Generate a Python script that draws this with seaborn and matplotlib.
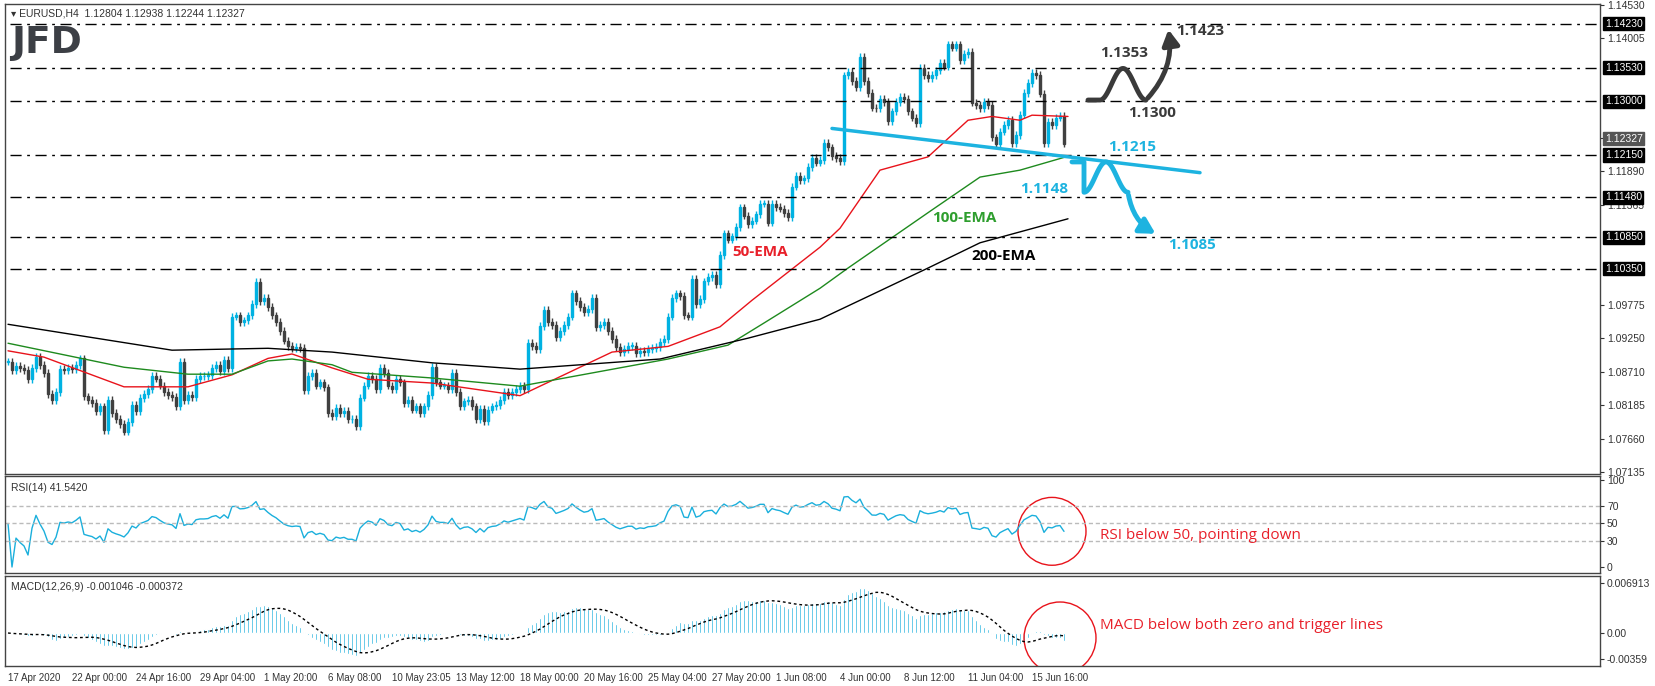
import numpy as np
import pandas as pd
import matplotlib
matplotlib.use("Agg")
import matplotlib.pyplot as plt
import seaborn as sns
from matplotlib.patches import Ellipse
from matplotlib.transforms import blended_transform_factory

# H4 closes, EURUSD 17 Apr - 16 Jun 2020
closes = [
    1.0888, 1.0875, 1.0881, 1.0878, 1.0875, 1.0860, 1.0878, 1.0895, 1.0883, 1.0870,
    1.0837, 1.0827, 1.0840, 1.0877, 1.0875, 1.0878, 1.0876, 1.0883, 1.0893,
    1.0833, 1.0827, 1.0822, 1.0809, 1.0817, 1.0780, 1.0827, 1.0807, 1.0797, 1.0789,
    1.0777, 1.0792, 1.0820, 1.0810, 1.0830, 1.0837, 1.0845, 1.0865, 1.0861, 1.0850,
    1.0840, 1.0835, 1.0832, 1.0817, 1.0888, 1.0827, 1.0835, 1.0832, 1.0860, 1.0865,
    1.0865, 1.0867, 1.0878, 1.0883, 1.0873, 1.0891, 1.0878, 1.0959, 1.0961, 1.0951,
    1.0953, 1.0961, 1.0979, 1.1014, 1.0984, 1.0989, 1.0974, 1.0961, 1.0951, 1.0936,
    1.0921, 1.0913, 1.0909, 1.0911, 1.0909, 1.0843, 1.0865, 1.0870, 1.0850, 1.0855,
    1.0847, 1.0807, 1.0802, 1.0815, 1.0807, 1.0810, 1.0797, 1.0797, 1.0786, 1.0831,
    1.0850, 1.0865, 1.0860, 1.0845, 1.0878, 1.0870, 1.0850, 1.0845, 1.0860, 1.0855,
    1.0822, 1.0827, 1.0812, 1.0817, 1.0807, 1.0817, 1.0835, 1.0879, 1.0855, 1.0850,
    1.0850, 1.0845, 1.0870, 1.0840, 1.0817, 1.0825, 1.0827, 1.0817, 1.0797, 1.0813,
    1.0794, 1.0812, 1.0817, 1.0819, 1.0827, 1.0840, 1.0835, 1.0840, 1.0845, 1.0850,
    1.0845,
    1.0917, 1.0913, 1.0908, 1.0944, 1.0970, 1.0951, 1.0946, 1.0927, 1.0936, 1.0946,
    1.0959, 1.0996, 1.0984, 1.0974, 1.0966, 1.0971, 1.0989, 1.0942, 1.0946, 1.0951,
    1.0936, 1.0924, 1.0911, 1.0903, 1.0908, 1.0913, 1.0913, 1.0901, 1.0905, 1.0903,
    1.0908, 1.0909, 1.0911, 1.0919, 1.0924, 1.0959, 1.0989, 1.0996, 1.0992, 1.0961,
    1.0959, 1.1019, 1.0979, 1.0987, 1.1015, 1.1022, 1.1025, 1.1011, 1.1057, 1.1091,
    1.1081, 1.1086, 1.1101, 1.1132, 1.1119, 1.1106, 1.1111, 1.1121, 1.1138, 1.1138,
    1.1108, 1.1138, 1.1133, 1.1130, 1.1123, 1.1117, 1.1165, 1.1182, 1.1175, 1.1178,
    1.1196, 1.1211, 1.1203,
    1.1207, 1.1234, 1.1227, 1.1213, 1.1210, 1.1205, 1.1341, 1.1347, 1.1332, 1.1322,
    1.1370, 1.1332, 1.1313, 1.1290, 1.1289, 1.1304, 1.1299, 1.1268, 1.1284, 1.1299,
    1.1307, 1.1304, 1.1284, 1.1274, 1.1265, 1.1353, 1.1342, 1.1337, 1.1342, 1.1349,
    1.1361, 1.1355, 1.1390, 1.1385, 1.1390, 1.1365, 1.1375, 1.1378, 1.1298, 1.1294,
    1.1289, 1.1299, 1.1294, 1.1243, 1.1232, 1.1252, 1.1262, 1.1271, 1.1234, 1.1247,
    1.1279, 1.1313, 1.1329, 1.1345, 1.1342, 1.1312, 1.1234, 1.1267, 1.1262, 1.1274,
    1.1277, 1.1233,
]

# moving averages: (bar index, value)
ema50_bars = [0, 9, 29, 45, 56, 65, 71, 81, 90, 106, 128, 151, 165, 178, 186, 203, 208, 218, 230, 240, 246, 253, 256, 265]
ema50_vals = [1.0905, 1.0895, 1.0848, 1.0848, 1.0867, 1.0893, 1.0900, 1.0878, 1.0860, 1.0854, 1.0834, 1.0903,
              1.0912, 1.0943, 1.0985, 1.1069, 1.1099, 1.1191, 1.1212, 1.1270, 1.1276, 1.1270, 1.1278, 1.1276]
ema100_bars = [0, 29, 45, 56, 65, 71, 81, 86, 106, 128, 165, 180, 189, 203, 210, 231, 243, 253, 265]
ema100_vals = [1.0917, 1.0879, 1.0868, 1.0868, 1.0889, 1.0892, 1.0883, 1.0871, 1.0862, 1.0849, 1.0892,
               1.0914, 1.0949, 1.1004, 1.1036, 1.1128, 1.1180, 1.1191, 1.1213]
ema200_bars = [0, 41, 65, 81, 106, 128, 163, 185, 203, 230, 243, 265]
ema200_vals = [1.0947, 1.0906, 1.0909, 1.0903, 1.0886, 1.0876, 1.0892, 1.0925, 1.0955, 1.1036, 1.1076, 1.1114]

levels = [1.1423, 1.1353, 1.1300, 1.1215, 1.1148, 1.1085, 1.1035]
price_ticks = [1.14530, 1.14005, 1.12415, 1.11890, 1.11365, 1.09775, 1.09250, 1.08710, 1.08185, 1.07660, 1.07135]
date_labels = ["17 Apr 2020", "22 Apr 00:00", "24 Apr 16:00", "29 Apr 04:00", "1 May 20:00", "6 May 08:00",
               "10 May 23:05", "13 May 12:00", "18 May 00:00", "20 May 16:00", "25 May 04:00", "27 May 20:00",
               "1 Jun 08:00", "4 Jun 00:00", "8 Jun 12:00", "11 Jun 04:00", "15 Jun 16:00"]

BULL = "#00B2E2"
BEAR = "#404040"
BLUE = "#1DB3E0"
W, H = 1655, 686

df = pd.DataFrame({"close": closes})
df["bar"] = np.arange(len(df))
df["open"] = df["close"].shift(1).fillna(df["close"].iloc[0])

# indicators from the closes
delta = df["close"].diff().fillna(0)
gain = delta.clip(lower=0).ewm(alpha=1 / 14, adjust=True).mean()
loss = (-delta.clip(upper=0)).ewm(alpha=1 / 14, adjust=True).mean()
df["rsi"] = (100 - 100 / (1 + gain / loss.replace(0, np.nan))).fillna(50)
df["macd"] = df["close"].ewm(span=12, adjust=False).mean() - df["close"].ewm(span=26, adjust=False).mean()
df["signal"] = df["macd"].rolling(9, min_periods=1).mean()

sns.set_style("white")
plt.rcParams["font.family"] = ["Liberation Sans", "DejaVu Sans"]

fig = plt.figure(figsize=(W / 100, H / 100), dpi=100)


def box(top, bottom, left=5, right=1600):
    return [left / W, 1 - bottom / H, (right - left) / W, (bottom - top) / H]


ax = fig.add_axes(box(4, 474))
ax_rsi = fig.add_axes(box(476, 573))
ax_macd = fig.add_axes(box(576, 666))
XL = (-0.75, 398)

# --- main price panel ---
pad = 0.0006
for _, r in df.iterrows():
    o, c, b = r["open"], r["close"], r["bar"]
    lo, hi = min(o, c), max(o, c)
    up = c >= o
    col = BULL if up else BEAR
    ax.vlines(b, lo - pad, hi + pad, color=col, lw=1)
    ax.bar(b, max(hi - lo, 0.00005), bottom=lo, width=0.6,
           facecolor="white" if up else BEAR, edgecolor=col, lw=1)

sns.lineplot(x=ema50_bars, y=ema50_vals, ax=ax, color="#E8131B", lw=1)
sns.lineplot(x=ema100_bars, y=ema100_vals, ax=ax, color="#1E8A1E", lw=1)
sns.lineplot(x=ema200_bars, y=ema200_vals, ax=ax, color="black", lw=1)

for lv in levels:
    ax.plot([0.5, XL[1]], [lv, lv], color="black", lw=1, ls=(0, (8, 4, 2, 4)))

trans = blended_transform_factory(ax.transAxes, ax.transData)
for lv in levels:
    ax.text(1.003, lv, f"{lv:.5f}", transform=trans, fontsize=7.5, color="white", va="center",
            bbox=dict(boxstyle="square,pad=0.15", fc="black", ec="black"))
ax.text(1.003, 1.12327, "1.12327", transform=trans, fontsize=7.5, color="white", va="bottom",
        bbox=dict(boxstyle="square,pad=0.15", fc="#555555", ec="#555555"))

# scenario paths
t = np.linspace(0, 1, 60)
bx = np.concatenate([[270, 273], 273 + 11.5 * t])
by = np.concatenate([[1.1302, 1.1302], 1.1302 + 0.0025 * (1 - np.cos(2 * np.pi * t))])
ax.plot(bx, by, color="#3A3A3A", lw=3.5, solid_capstyle="round")
ax.annotate("", xy=(290, 1.1418), xytext=(284.5, 1.1302),
            arrowprops=dict(arrowstyle="-|>,head_width=0.5,head_length=0.9", color="#3A3A3A", lw=3.5,
                            connectionstyle="arc3,rad=0.25"))
gx = np.concatenate([[266, 269], 269 + 11 * t])
gy = np.concatenate([[1.1204, 1.1204], 1.1180 - 0.0024 * np.cos(2 * np.pi * t)])
ax.plot(gx, gy, color=BLUE, lw=3.5, solid_capstyle="round")
ax.annotate("", xy=(287.5, 1.1088), xytext=(280, 1.1156),
            arrowprops=dict(arrowstyle="-|>,head_width=0.5,head_length=0.9", color=BLUE, lw=3.5,
                            connectionstyle="arc3,rad=0.25"))
ax.plot([206, 298], [1.1257, 1.1187], color=BLUE, lw=2.5)

bold = dict(fontsize=11, fontweight="bold", family=["Open Sans", "DejaVu Sans"])
ax.text(279, 1.1366, "1.1353", color="#3A3A3A", ha="center", va="bottom", **bold)
ax.text(286, 1.1292, "1.1300", color="#3A3A3A", ha="center", va="top", **bold)
ax.text(292, 1.1412, "1.1423", color="#3A3A3A", ha="left", va="center", **bold)
ax.text(281, 1.1228, "1.1215", color=BLUE, ha="center", va="center", **bold)
ax.text(259, 1.1161, "1.1148", color=BLUE, ha="center", va="center", **bold)
ax.text(290, 1.1072, "1.1085", color=BLUE, ha="left", va="center", **bold)
ax.text(188, 1.1062, "50-EMA", color="#E8202A", ha="center", va="center", **bold)
ax.text(239, 1.1115, "100-EMA", color="#2E9E2E", ha="center", va="center", **bold)
ax.text(249, 1.1055, "200-EMA", color="black", ha="center", va="center", **bold)

ax.text(0.004, 0.99, "\u25be EURUSD,H4  1.12804 1.12938 1.12244 1.12327", transform=ax.transAxes,
        fontsize=7.5, color="#333333", va="top")
ax.text(0.004, 0.955, "JFD", transform=ax.transAxes, fontsize=27, fontweight="bold",
        color="#3C3F45", va="top", family=["DejaVu Sans"])

ax.set_xlim(*XL)
ax.set_ylim(1.0710, 1.1454)
ax.yaxis.tick_right()
ax.set_yticks(price_ticks)
ax.set_yticklabels([f"{v:.5f}" for v in price_ticks])

# --- RSI panel ---
sns.lineplot(data=df, x="bar", y="rsi", ax=ax_rsi, color="#1AAFDC", lw=1)
for lv in (70, 50, 30):
    ax_rsi.axhline(lv, color="#BBBBBB", lw=1, ls=(0, (3, 2)))
ax_rsi.set_ylim(-6.9, 104.6)
ax_rsi.set_xlim(*XL)
ax_rsi.yaxis.tick_right()
ax_rsi.set_yticks([100, 70, 50, 30, 0])
ax_rsi.add_patch(Ellipse((261, 41), 17, 78, fill=False, ec="#E8131B", lw=1))
ax_rsi.text(273, 36, "RSI below 50, pointing down", color="#E8202A", fontsize=11, va="center",
            family=["Open Sans", "DejaVu Sans"])
ax_rsi.text(0.004, 0.93, "RSI(14) 41.5420", transform=ax_rsi.transAxes, fontsize=7.5, color="#333333", va="top")

# --- MACD panel ---
ax_macd.bar(df["bar"], df["macd"], width=0.4, color="#12ACDB")
ax_macd.plot(df["bar"], df["signal"], color="black", lw=1, ls=(0, (2, 2)))
ax_macd.set_ylim(-0.00456, 0.00788)
ax_macd.set_xlim(*XL)
ax_macd.yaxis.tick_right()
ax_macd.set_yticks([0.006913, 0.0, -0.00359])
ax_macd.set_yticklabels(["0.006913", "0.00", "-0.00359"])
ax_macd.add_patch(Ellipse((263, -0.00069), 18, 0.00995, fill=False, ec="#E8131B", lw=1))
ax_macd.text(273, 0.00097, "MACD below both zero and trigger lines", color="#E8202A", fontsize=11,
             va="center", family=["Open Sans", "DejaVu Sans"])
ax_macd.text(0.004, 0.93, "MACD(12,26,9) -0.001046 -0.000372", transform=ax_macd.transAxes,
             fontsize=7.5, color="#333333", va="top")
ax_macd.set_xticks(np.arange(len(date_labels)) * 16)
ax_macd.set_xticklabels(date_labels, ha="left")

for a in (ax, ax_rsi, ax_macd):
    a.set_xlabel("")
    a.set_ylabel("")
    a.tick_params(axis="both", labelsize=7.5, colors="#333333", length=3, direction="out", pad=2)
    for s in a.spines.values():
        s.set_color("#444444")
        s.set_linewidth(1)
for a in (ax, ax_rsi):
    a.set_xticks([])
ax_macd.tick_params(axis="x", labelsize=7)

fig.savefig("out.png", dpi=100)
